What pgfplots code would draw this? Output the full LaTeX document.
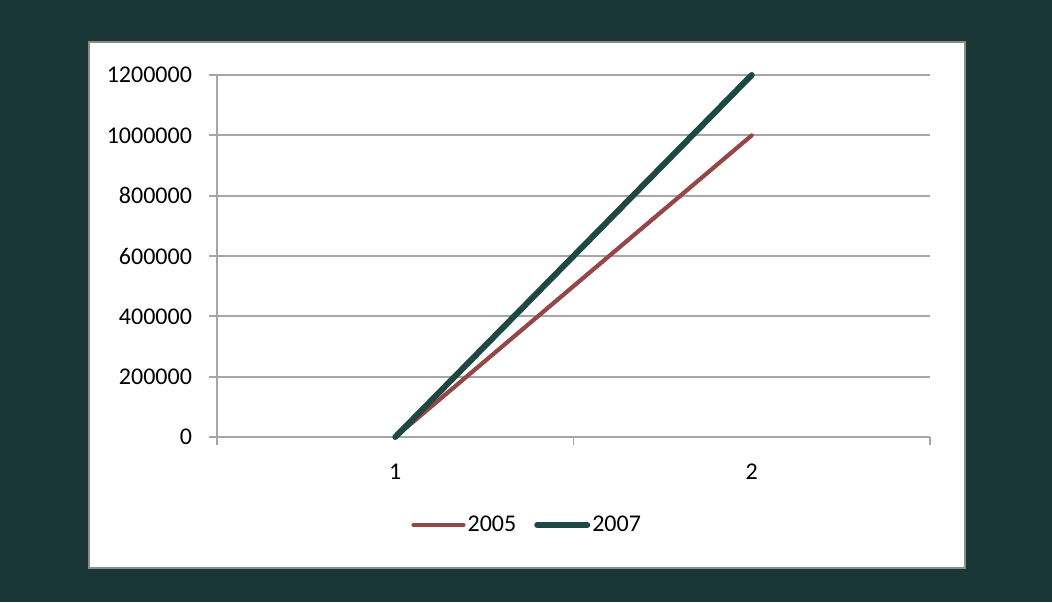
\documentclass[border=0pt]{standalone}
\usepackage{pgfplots}
\pgfplotsset{compat=1.18}
\usepackage{fontspec}
\setmainfont{Carlito}
\definecolor{bgteal}{HTML}{1A3636}
\definecolor{lteal}{HTML}{1F4744}
\definecolor{lred}{HTML}{954646}
\definecolor{gridgray}{HTML}{A6A6A6}
\definecolor{bordergray}{HTML}{8C8C8C}
\begin{document}
\begin{tikzpicture}
\fill[bgteal] (0pt,0pt) rectangle (526pt,301pt);
\fill[white,draw=bordergray,line width=1pt] (44.5pt,17pt) rectangle (482.5pt,280pt);
\begin{axis}[
  at={(108.5pt,82.5pt)}, anchor=south west,
  scale only axis, width=356.5pt, height=181pt,
  xmin=0.5, xmax=2.5, ymin=0, ymax=1200000,
  axis x line*=bottom, axis y line*=left,
  axis line style={gridgray, line width=0.9pt, -},
  xtick={1,2}, xticklabels={1,2},
  minor xtick={0.5,1.5,2.5},
  ytick={0,200000,400000,600000,800000,1000000,1200000},
  scaled y ticks=false,
  yticklabel style={/pgf/number format/fixed,/pgf/number format/1000 sep={}},
  /pgf/number format/assume math mode=true,
  ymajorgrids, major grid style={gridgray, line width=0.9pt},
  major x tick style={draw=none},
  major y tick style={gridgray, line width=0.9pt},
  minor x tick style={gridgray, line width=0.9pt},
  tick align=outside, major tick length=4pt, minor tick length=4pt,
  tick label style={font=\fontsize{12}{14}\selectfont, black},
  xticklabel style={yshift=-6pt},
  yticklabel style={xshift=-5pt},
  legend style={draw=none, fill=none, at={(0.435,-0.243)}, anchor=center,
    legend columns=2, font=\fontsize{12}{14}\selectfont,
    nodes={inner xsep=1pt},
    /tikz/every even column/.append style={column sep=8pt}},
  legend image code/.code={\draw[#1] (0pt,0pt) -- (25pt,0pt);},
  legend cell align=left,
  clip=false,
]
\addplot[lred, line width=2.1pt, line cap=round] coordinates {(1,0) (2,1000000)};
\addlegendentry{2005}
\addplot[lteal, line width=3pt, line cap=round] coordinates {(1,0) (2,1200000)};
\addlegendentry{2007}
\end{axis}
\end{tikzpicture}
\end{document}
